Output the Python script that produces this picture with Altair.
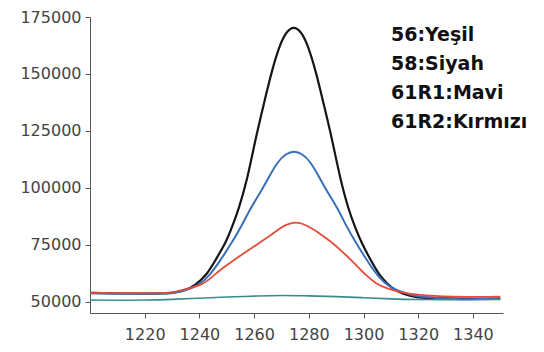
import altair as alt
import pandas as pd

# --- data ---
black_x = [1200, 1210, 1220, 1226, 1230, 1234.5, 1238.5, 1242.5, 1246, 1249.5, 1252, 1254.5, 1257.5, 1260.5,
           1263.5, 1266.5, 1269.5, 1272, 1274.5, 1277, 1279.5, 1282.5, 1285.5, 1288.5, 1291.5, 1294.5, 1297,
           1299.5, 1303, 1306.5, 1310.5, 1314.5, 1319.5, 1324.5, 1334.5, 1342, 1350]
black_y = [53800, 53600, 53500, 53600, 53900, 55000, 57500, 62000, 68500, 76000, 83000, 91500, 104500, 121000,
           136500, 151000, 162500, 168300, 170200, 168300, 162500, 151000, 136500, 121000, 104500, 91000, 82500,
           75500, 67500, 60800, 56000, 53500, 52000, 51600, 51300, 51200, 51400]

blue_x = [1200, 1210, 1220, 1226, 1229.6, 1234.6, 1239.6, 1243.85, 1248.1, 1252.1, 1255.6, 1258.75, 1262.6,
          1265.75, 1268.6, 1271.6, 1274.6, 1277.6, 1280.6, 1283.45, 1286.6, 1290.45, 1293.6, 1297.1, 1301.1,
          1305.35, 1309.6, 1314.6, 1319.6, 1326, 1333, 1342, 1350]
blue_y = [53700, 53500, 53500, 53600, 53700, 55000, 57500, 62000, 69000, 76500, 83800, 90900, 98700, 105400,
          111000, 114600, 115800, 114600, 111000, 105400, 98700, 90900, 83600, 76200, 68500, 61300, 56700,
          54000, 52500, 51700, 51200, 51100, 51300]

red_x = [1200, 1210, 1220, 1226, 1231, 1236, 1240.8, 1244.8, 1248.7, 1252, 1255.5, 1259, 1262.8, 1266.5, 1270,
         1272.5, 1275, 1277.5, 1280, 1283, 1287.8, 1292, 1295, 1297.5, 1301, 1304.8, 1309, 1314, 1320, 1326,
         1333, 1342, 1350]
red_y = [53900, 53700, 53600, 53700, 54300, 55800, 57700, 61000, 64900, 67700, 70600, 73400, 76500, 79600,
         82600, 84000, 84700, 84200, 82900, 80700, 76500, 72200, 68800, 65800, 61600, 58000, 55700, 54100,
         53100, 52500, 52200, 52100, 52200]

teal_x = [1200, 1210, 1220, 1230, 1240, 1250, 1260, 1270, 1280, 1290, 1300, 1310, 1320, 1330, 1340, 1350]
teal_y = [50700, 50600, 50700, 51000, 51500, 52000, 52400, 52700, 52500, 52200, 51700, 51200, 50900, 50800,
          50800, 50900]

series_names = ["58", "61R1", "61R2", "56"]
series_colors = ["#151515", "#3a6fb8", "#e64a38", "#3a8c8c"]

x_ticks = [1220, 1240, 1260, 1280, 1300, 1320, 1340]
y_ticks = [50000, 75000, 100000, 125000, 150000, 175000]

labels = ["56:Yeşil", "58:Siyah", "61R1:Mavi", "61R2:Kırmızı"]

rows = []
for name, xs, ys in zip(series_names, [black_x, blue_x, red_x, teal_x], [black_y, blue_y, red_y, teal_y]):
    for i, (xv, yv) in enumerate(zip(xs, ys)):
        rows.append({"series": name, "x": xv, "y": yv, "order": i})
df = pd.DataFrame(rows)

TOP = 9

x_enc = alt.X("x:Q", scale=alt.Scale(domain=[1200, 1351], nice=False, zero=False),
              axis=alt.Axis(values=x_ticks, title=None, grid=False, format="d", labelPadding=8))
y_enc = alt.Y("y:Q", scale=alt.Scale(domain=[45000, 175000], nice=False, zero=False),
              axis=alt.Axis(values=y_ticks, title=None, grid=False, format="d", labelPadding=4))

lines = alt.Chart(df).mark_line(interpolate="natural").encode(
    x=x_enc,
    y=y_enc,
    color=alt.Color("series:N", scale=alt.Scale(domain=series_names, range=series_colors), legend=None),
    strokeWidth=alt.StrokeWidth("series:N", scale=alt.Scale(domain=series_names, range=[2.2, 1.6, 1.6, 1.6]),
                                legend=None),
    detail="series:N",
    order="order:Q",
)

texts = []
for i, lab in enumerate(labels):
    texts.append(
        alt.Chart(pd.DataFrame({"t": [lab]})).mark_text(
            align="left", baseline="middle", font="DejaVu Sans", fontWeight="bold", fontSize=19, color="#111111"
        ).encode(text="t:N", x=alt.value(301), y=alt.value(35 - 8 - TOP + 29 * i))
    )

chart = alt.layer(lines, *texts).properties(
    width=413,
    height=313 - 8 - TOP,
    autosize=alt.AutoSizeParams(type="none"),
    padding={"left": 82, "top": TOP, "right": 33, "bottom": 34},
).configure_view(stroke=None).configure_axis(
    labelFont="DejaVu Sans",
    labelFontSize=16,
    labelColor="#444444",
    domainColor="#555555",
    tickColor="#555555",
    tickSize=5,
)

chart.save("out.html", embed_options={"renderer": "svg", "actions": False})
